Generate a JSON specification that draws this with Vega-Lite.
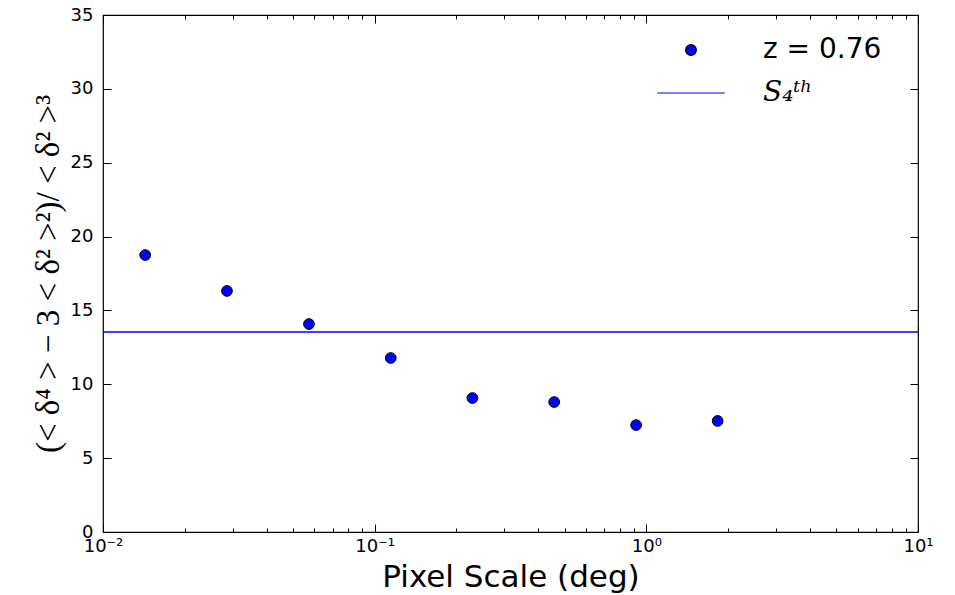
{
  "$schema": "https://vega.github.io/schema/vega-lite/v6.json",
  "width": 815,
  "height": 517,
  "autosize": {"type": "none"},
  "padding": {"left": 103, "top": 15, "right": 37, "bottom": 63},
  "background": "white",
  "config": {
    "view": {"stroke": "black", "strokeWidth": 1.2},
    "axis": {"grid": false, "domain": false, "labelFont": "DejaVu Sans", "labelFontSize": 18, "labelColor": "black", "tickColor": "black", "tickWidth": 1, "labelOverlap": false, "labelFlush": false, "labelBound": false}
  },
  "layer": [
    {
      "data": {"values": [
        {"scale": 0.0143, "value": 18.75, "series": "z = 0.76"},
        {"scale": 0.0286, "value": 16.32, "series": "z = 0.76"},
        {"scale": 0.0573, "value": 14.08, "series": "z = 0.76"},
        {"scale": 0.1146, "value": 11.78, "series": "z = 0.76"},
        {"scale": 0.229, "value": 9.07, "series": "z = 0.76"},
        {"scale": 0.458, "value": 8.80, "series": "z = 0.76"},
        {"scale": 0.917, "value": 7.24, "series": "z = 0.76"},
        {"scale": 1.83, "value": 7.52, "series": "z = 0.76"}
      ]},
      "mark": {"type": "point", "filled": true, "size": 115, "strokeWidth": 1, "opacity": 1},
      "encoding": {
        "x": {"field": "scale", "type": "quantitative", "scale": {"type": "log", "domain": [0.01, 10]},
          "axis": {"orient": "bottom", "values": [0.01,0.02,0.03,0.04,0.05,0.06,0.07,0.08,0.09,0.1,0.2,0.3,0.4,0.5,0.6,0.7,0.8,0.9,1,2,3,4,5,6,7,8,9,10],
            "labelExpr": "datum.value==0.01?'10⁻²':datum.value==0.1?'10⁻¹':datum.value==1?'10⁰':datum.value==10?'10¹':''",
            "tickSize": {"condition": {"test": "datum.value==0.01||datum.value==0.1||datum.value==1||datum.value==10", "value": -8}, "value": -4},
            "labelPadding": 13, "title": "Pixel Scale (deg)", "titleFont": "DejaVu Sans", "titleFontSize": 31, "titleFontWeight": "normal", "titleColor": "black", "titlePadding": 3}},
        "y": {"field": "value", "type": "quantitative", "scale": {"domain": [0, 35]},
          "axis": {"orient": "left", "values": [0,5,10,15,20,25,30,35], "tickSize": -8, "labelPadding": 18,
            "title": "(< δ⁴ > − 3 < δ² >²)/ < δ² >³", "titleFont": "Liberation Serif", "titleFontSize": 33, "titleFontWeight": "normal", "titleColor": "black", "titlePadding": 5}},
        "shape": {"field": "series", "type": "nominal", "scale": {"domain": ["z = 0.76", "S₄ᵗʰ"], "range": ["circle", "M-6.3,0H6.3"]},
          "legend": {"title": null, "orient": "none", "legendX": 574, "legendY": 21, "labelFontSize": 28, "labelColor": "black", "symbolSize": 115, "symbolStrokeWidth": 1.2, "labelOffset": 58, "rowPadding": 15,
            "labelFont": {"expr": "datum.value === 'z = 0.76' ? 'DejaVu Sans' : 'DejaVu Serif'"},
            "labelFontStyle": {"expr": "datum.value === 'z = 0.76' ? 'normal' : 'italic'"}}},
        "fill": {"field": "series", "type": "nominal", "scale": {"domain": ["z = 0.76", "S₄ᵗʰ"], "range": ["#0000ff", "#0000ff"]},
          "legend": {"title": null, "orient": "none", "legendX": 574, "legendY": 21, "labelFontSize": 28, "labelColor": "black", "symbolSize": 115, "symbolStrokeWidth": 1.2, "labelOffset": 58, "rowPadding": 15,
            "labelFont": {"expr": "datum.value === 'z = 0.76' ? 'DejaVu Sans' : 'DejaVu Serif'"},
            "labelFontStyle": {"expr": "datum.value === 'z = 0.76' ? 'normal' : 'italic'"}}},
        "stroke": {"field": "series", "type": "nominal", "scale": {"domain": ["z = 0.76", "S₄ᵗʰ"], "range": ["black", "#0000ff"]},
          "legend": {"title": null, "orient": "none", "legendX": 574, "legendY": 21, "labelFontSize": 28, "labelColor": "black", "symbolSize": 115, "symbolStrokeWidth": 1.2, "labelOffset": 58, "rowPadding": 15,
            "labelFont": {"expr": "datum.value === 'z = 0.76' ? 'DejaVu Sans' : 'DejaVu Serif'"},
            "labelFontStyle": {"expr": "datum.value === 'z = 0.76' ? 'normal' : 'italic'"}}}
      }
    },
    {
      "data": {"values": [{"level": 13.54}]},
      "mark": {"type": "rule", "color": "#0000ff", "strokeWidth": 1.5},
      "encoding": {
        "x": {"datum": 0.01, "type": "quantitative",
          "axis": {"orient": "top", "values": [0.01,0.02,0.03,0.04,0.05,0.06,0.07,0.08,0.09,0.1,0.2,0.3,0.4,0.5,0.6,0.7,0.8,0.9,1,2,3,4,5,6,7,8,9,10], "labels": false, "title": null,
            "tickSize": {"condition": {"test": "datum.value==0.01||datum.value==0.1||datum.value==1||datum.value==10", "value": -8}, "value": -4}}},
        "x2": {"datum": 10},
        "y": {"field": "level", "type": "quantitative",
          "axis": {"orient": "right", "values": [0,5,10,15,20,25,30,35], "labels": false, "title": null, "tickSize": -8}}
      }
    }
  ],
  "resolve": {"axis": {"x": "independent", "y": "independent"}}
}
